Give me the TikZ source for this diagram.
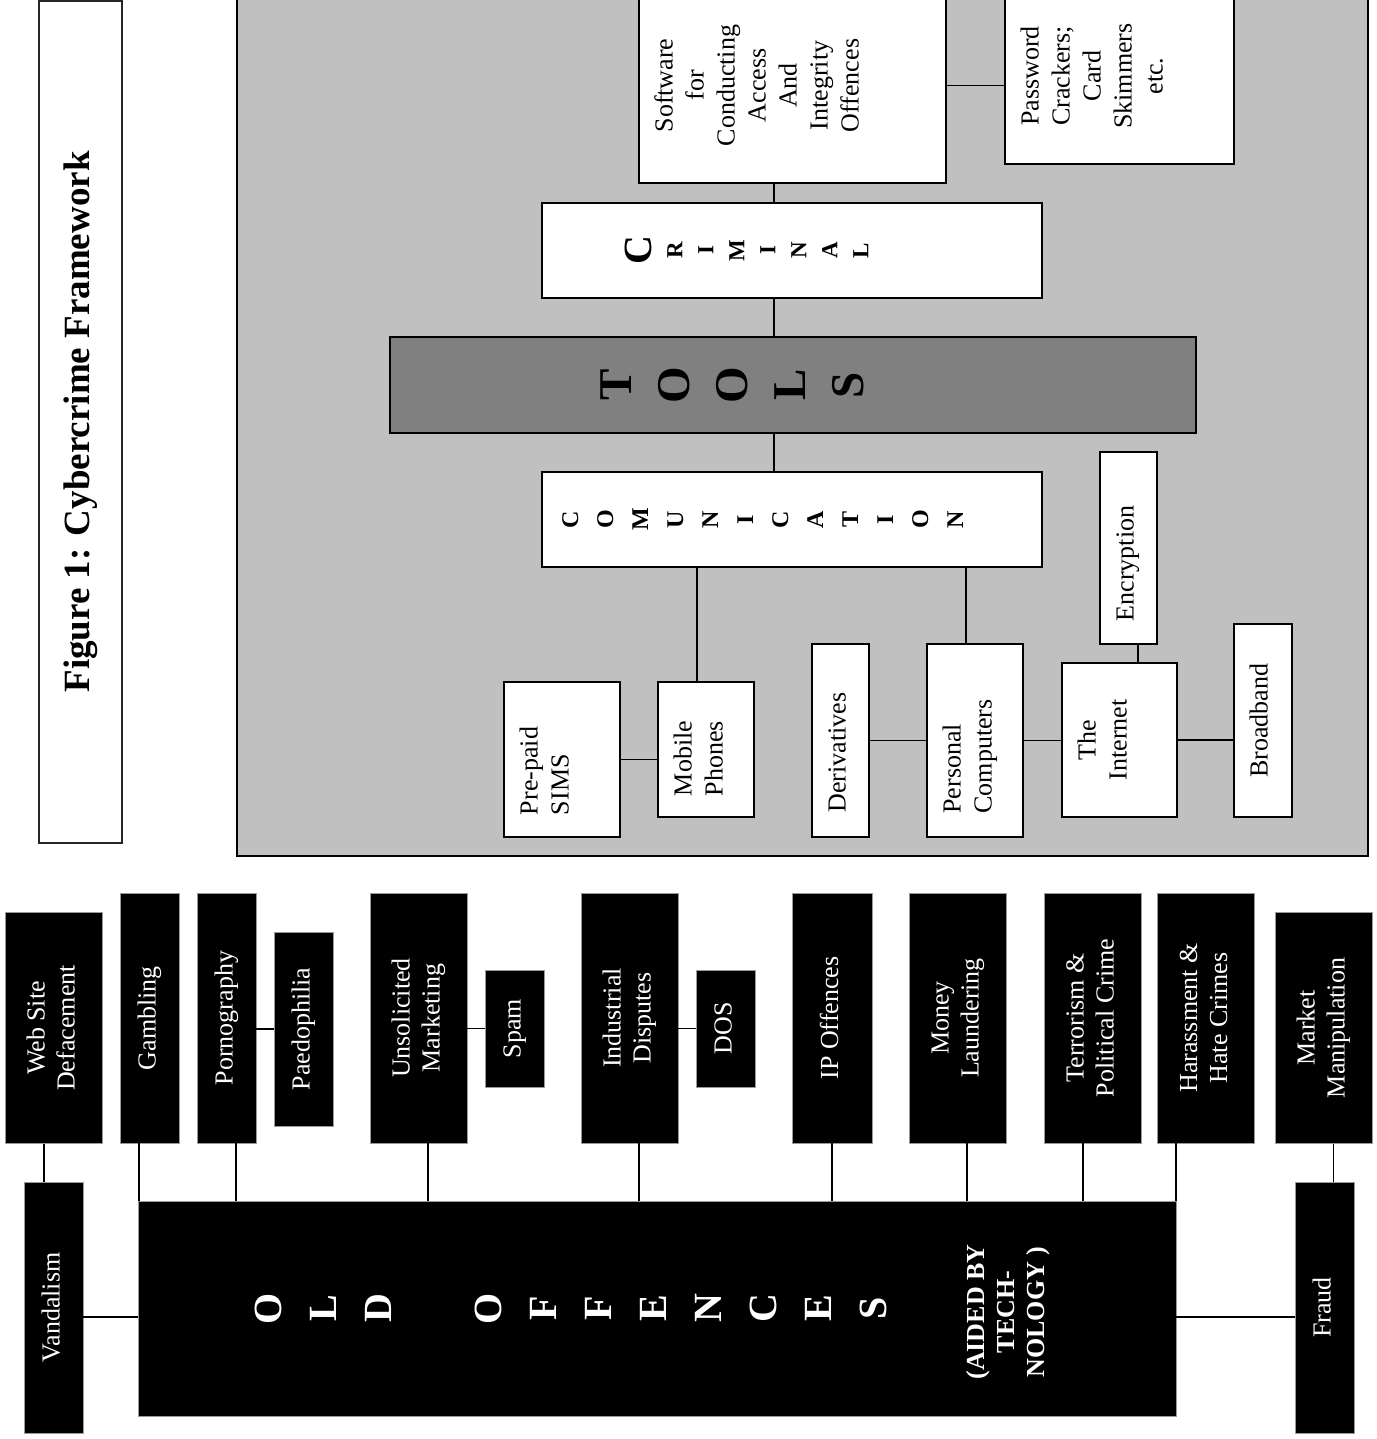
\documentclass[tikz,border=0pt]{standalone}
\usepackage{fontspec}
\setmainfont{Liberation Serif}
\usepackage{graphicx}
\usetikzlibrary{calc, positioning}
\definecolor{panelgray}{HTML}{C0C0C0}
\definecolor{toolgray}{HTML}{808080}
\newcommand{\vtext}[2][@{}c@{}]{\rotatebox{90}{\begin{tabular}{#1}#2\end{tabular}}}
\tikzstyle{link}=[line width=1.4pt]
\tikzstyle{blackbox}=[draw=black!40, line width=0.8pt, fill=black, text=white, inner sep=0pt, font=\fontsize{26}{30}\selectfont]
\tikzstyle{whitebox}=[draw, line width=1.6pt, fill=white, inner ysep=0pt, inner xsep=12pt, align=left, font=\fontsize{26}{31}\selectfont]
\tikzset{boxsize/.style 2 args={minimum width=#1pt, minimum height=#2pt}}

\begin{document}
\begin{tikzpicture}[x=1pt, y=-1pt]
		\useasboundingbox (0,0) rectangle (1376,1439);
		% title
		\node[draw=black!85, line width=2pt, minimum width=83pt, minimum height=842pt, inner sep=0pt, font=\bfseries\fontsize{37}{40}\selectfont] (title) at (80.5,422) {\rotatebox{90}{Figure 1: Cybercrime Framework}};
		% tools panel
		\draw[fill=panelgray, line width=1.6pt] (237,-20) rectangle (1368,856);
		\node[whitebox, text width=283pt, minimum height=195pt] (soft) at (792.5,85.5) {\vtext{Software\\for\\Conducting\\Access\\And\\Integrity\\Offences}};
		\node[whitebox, text width=205pt, minimum height=176pt] (pass) at (1119.5,76) {\vtext{Password\\Crackers;\\Card\\Skimmers\\etc.}};
		\node[whitebox, font=\bfseries\fontsize{23}{31}\selectfont, text width=334pt, inner xsep=83pt, minimum height=95pt] (crim) at (792,250.5) {\vtext{{\fontsize{40}{31}\selectfont C}\\R\\I\\M\\I\\N\\A\\L}};
		\node[whitebox, fill=toolgray, font=\bfseries\fontsize{47}{58}\selectfont, text width=404pt, inner xsep=201pt, minimum height=96pt] (tools) at (793,385) {\vtext{T\\O\\O\\L\\S}};
		\node[whitebox, font=\bfseries\fontsize{24}{35}\selectfont, text width=477pt, inner xsep=11.5pt, minimum height=95pt] (comm) at (792,519.5) {\vtext{C\\O\\M\\U\\N\\I\\C\\A\\T\\I\\O\\N}};
		\node[whitebox, text width=92pt, minimum height=155pt] (prepaid) at (562,759.5) {\vtext[@{}l@{\hspace{23pt}}]{Pre-paid\\SIMS}};
		\node[whitebox, text width=72pt, minimum height=135pt] (mobile) at (706,749.5) {\vtext[@{}l@{\hspace{18pt}}]{Mobile\\Phones}};
		\node[whitebox, text width=33pt, minimum height=193pt] (deriv) at (840.5,740.5) {\vtext[@{}l@{\hspace{24pt}}]{Derivatives}};
		\node[whitebox, text width=72pt, minimum height=193pt] (pc) at (975,740.5) {\vtext[@{}l@{\hspace{32pt}}]{Personal\\Computers}};
		\node[whitebox, text width=91pt, minimum height=154pt] (inet) at (1119.5,740) {\vtext{The\\Internet}};
		\node[whitebox, text width=33pt, minimum height=192pt] (encr) at (1128.5,548) {\vtext[@{}l@{\hspace{31pt}}]{Encryption}};
		\node[whitebox, text width=34pt, minimum height=193pt] (broad) at (1263,720.5) {\vtext{Broadband}};
		\path[link]
		(soft.east) edge (soft.east -| pass.west)
		([xshift=-18pt]crim.north) edge ([xshift=-18pt]crim.north |- soft.south)
		([xshift=-18pt]crim.south) edge ([xshift=-18pt]crim.south |- tools.north)
		([xshift=-18pt]comm.north) edge ([xshift=-18pt]comm.north |- tools.south)
		([xshift=-9pt]mobile.north) edge ([xshift=-9pt]mobile.north |- comm.south)
		([xshift=-9pt]pc.north) edge ([xshift=-9pt]pc.north |- comm.south)
		(prepaid.east) edge (prepaid.east -| mobile.west)
		(deriv.east) edge (deriv.east -| pc.west)
		(pc.east) edge (pc.east -| inet.west)
		(inet.east) edge (inet.east -| broad.west)
		([xshift=9.5pt]encr.south) edge ([xshift=9.5pt]encr.south |- inet.north);
		% old offences
		\node[blackbox, font=\bfseries\fontsize{40}{55}\selectfont, text width=829pt, inner xsep=104.5pt, align=left, minimum height=215pt] (old) at (657,1308.5) {\vtext{O\\L\\D\\[55pt]O\\F\\F\\E\\N\\C\\E\\S}};
		\node[text=white, font=\bfseries\fontsize{26}{30}\selectfont, inner sep=0pt] (aided) at (1008,1312) {\vtext{(AIDED BY\\TECH-\\NOLOGY )}};
		\node[blackbox, boxsize={97}{231}] (web) at (53.5,1028) {\vtext{Web Site\\Defacement}};
		\node[blackbox, boxsize={59}{251}] (vandal) at (53.5,1307.5) {\vtext{Vandalism}};
		\node[blackbox, boxsize={59}{250}] (gamb) at (149.5,1018) {\vtext{Gambling}};
		\node[blackbox, boxsize={59}{250}] (porn) at (226.5,1018) {\vtext{Pornography}};
		\node[blackbox, boxsize={59}{194}] (paedo) at (303.5,1029) {\vtext{Paedophilia}};
		\node[blackbox, boxsize={97}{250}] (unsol) at (418.5,1018) {\vtext{Unsolicited\\Marketing}};
		\node[blackbox, boxsize={59}{117}] (spam) at (514.5,1028.5) {\vtext{Spam}};
		\node[blackbox, boxsize={97}{250}] (indus) at (629.5,1018) {\vtext{Industrial\\Disputes}};
		\node[blackbox, boxsize={59}{117}] (dos) at (725.5,1028.5) {\vtext{DOS}};
		\node[blackbox, boxsize={80}{250}] (ipoff) at (832,1018) {\vtext{IP Offences}};
		\node[blackbox, boxsize={97}{250}] (money) at (957.5,1018) {\vtext{Money\\Laundering}};
		\node[blackbox, boxsize={97}{250}] (terror) at (1092.5,1018) {\vtext{Terrorism \&\\Political Crime}};
		\node[blackbox, boxsize={97}{250}] (harass) at (1206,1018) {\vtext{Harassment \&\\Hate Crimes}};
		\node[blackbox, boxsize={97}{231}] (market) at (1323.5,1028) {\vtext{Market\\Manipulation}};
		\node[blackbox, boxsize={59}{251}] (fraud) at (1324.5,1307.5) {\vtext{Fraud}};
		\path[link]
		([xshift=-9.5pt]web.south) edge ([xshift=-9.5pt]web.south |- vandal.north)
		([xshift=10pt]market.south) edge ([xshift=10pt]market.south |- fraud.north)
		([yshift=-9.5pt]vandal.east) edge ([yshift=-9.5pt]vandal.east -| old.west)
		([yshift=-9.5pt]fraud.west) edge ([yshift=-9.5pt]fraud.west -| old.east)
		([xshift=-10.5pt]gamb.south) edge ([xshift=-10.5pt]gamb.south |- old.north)
		([xshift=9.5pt]porn.south) edge ([xshift=9.5pt]porn.south |- old.north)
		([xshift=9.5pt]unsol.south) edge ([xshift=9.5pt]unsol.south |- old.north)
		([xshift=9.5pt]indus.south) edge ([xshift=9.5pt]indus.south |- old.north)
		(ipoff.south) edge (ipoff.south |- old.north)
		([xshift=9.5pt]money.south) edge ([xshift=9.5pt]money.south |- old.north)
		([xshift=-9.5pt]terror.south) edge ([xshift=-9.5pt]terror.south |- old.north)
		([xshift=-30pt]harass.south) edge ([xshift=-30pt]harass.south |- old.north)
		(paedo.west) edge (paedo.west -| porn.east)
		(spam.west) edge (spam.west -| unsol.east)
		(dos.west) edge (dos.west -| indus.east);
	\end{tikzpicture}
\end{document}
